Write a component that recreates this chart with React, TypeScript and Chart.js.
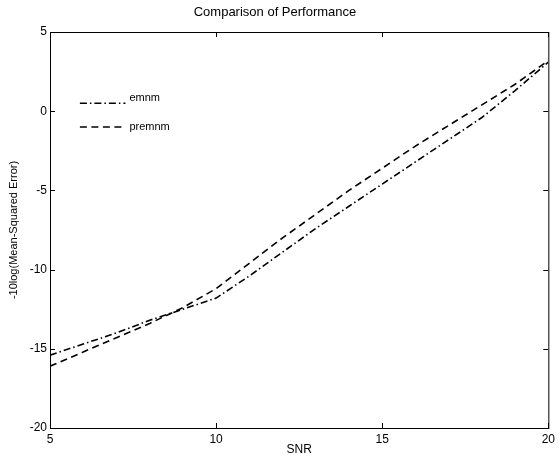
import React, { useEffect, useRef } from "react";
import { Chart, registerables } from "chart.js";

Chart.register(...registerables);

const snr = [5, 6, 7, 8, 9, 10, 11, 12, 13, 14, 15, 16, 17, 18, 19, 20];
const emnmValues = [-15.4, -14.7, -14.0, -13.2, -12.5, -11.8, -10.4, -8.9, -7.4, -6.0, -4.6, -3.2, -1.8, -0.4, 1.3, 3.1];
const premnmValues = [-16.1, -15.2, -14.3, -13.4, -12.4, -11.2, -9.6, -8.0, -6.5, -5.0, -3.6, -2.2, -0.9, 0.4, 1.7, 3.2];
const seriesLabels = ["emnm", "premnm"];
const xTickValues = [5, 10, 15, 20];
const yTickValues = [-20, -15, -10, -5, 0, 5];
const titleText = "Comparison of Performance";
const xTitle = "SNR";
const yTitle = "-10log(Mean-Squared Error)";

const FONT = "'Liberation Sans', Arial, Helvetica, sans-serif";

const framePlugin = {
  id: "frame",
  afterDatasetsDraw(chart: any) {
    const { ctx, chartArea } = chart;
    const { left, right, top, bottom } = chartArea;
    const xs = chart.scales.x;
    const ys = chart.scales.y;
    ctx.save();
    ctx.strokeStyle = "#000";
    ctx.lineWidth = 1;
    ctx.setLineDash([]);
    ctx.strokeRect(left + 0.5, top + 0.5, right - left, bottom - top);
    const tl = 5;
    ctx.beginPath();
    for (const v of xTickValues) {
      const px = Math.round(xs.getPixelForValue(v)) + 0.5;
      ctx.moveTo(px, bottom);
      ctx.lineTo(px, bottom - tl);
      ctx.moveTo(px, top);
      ctx.lineTo(px, top + tl);
    }
    for (const v of yTickValues) {
      const py = Math.round(ys.getPixelForValue(v)) + 0.5;
      ctx.moveTo(left, py);
      ctx.lineTo(left + tl, py);
      ctx.moveTo(right, py);
      ctx.lineTo(right - tl, py);
    }
    ctx.stroke();

    // in-plot legend
    const datasets = chart.data.datasets;
    const x0 = xs.getPixelForValue(5.9);
    const x1 = xs.getPixelForValue(7.27);
    const rows = [ys.getPixelForValue(0.5), ys.getPixelForValue(-1.0)];
    datasets.forEach((ds: any, i: number) => {
      const y = rows[i];
      ctx.beginPath();
      ctx.setLineDash(ds.borderDash);
      ctx.lineWidth = ds.borderWidth;
      ctx.strokeStyle = ds.borderColor;
      ctx.moveTo(x0, y);
      ctx.lineTo(x1, y);
      ctx.stroke();
      ctx.setLineDash([]);
      ctx.fillStyle = "#000";
      ctx.font = `11px ${FONT}`;
      ctx.textAlign = "left";
      ctx.textBaseline = "middle";
      ctx.fillText(ds.label, x1 + 4, i === 0 ? y - 5 : y);
    });
    ctx.restore();
  },
};

export default function App() {
  const ref = useRef<HTMLCanvasElement | null>(null);
  useEffect(() => {
    document.body.style.margin = "0";
    const canvas = ref.current;
    if (!canvas) return;
    const chart = new Chart(canvas, {
      type: "line",
      data: {
        datasets: [
          {
            label: seriesLabels[0],
            data: snr.map((x, i) => ({ x, y: emnmValues[i] })),
            borderColor: "#000",
            borderWidth: 1.6,
            borderDash: [7, 3, 1.5, 3],
            pointRadius: 0,
            fill: false,
            tension: 0,
          },
          {
            label: seriesLabels[1],
            data: snr.map((x, i) => ({ x, y: premnmValues[i] })),
            borderColor: "#000",
            borderWidth: 1.6,
            borderDash: [7, 4.5],
            pointRadius: 0,
            fill: false,
            tension: 0,
          },
        ],
      },
      options: {
        responsive: false,
        animation: false,
        layout: { padding: { left: 0, right: 9, top: 0, bottom: 0 } },
        plugins: {
          legend: { display: false },
          tooltip: { enabled: false },
          title: {
            display: true,
            text: titleText,
            color: "#000",
            font: { family: FONT, size: 13, weight: "normal", lineHeight: 1.2 },
            padding: { top: 5, bottom: 11.4 },
          },
        },
        scales: {
          x: {
            type: "linear",
            min: 5,
            max: 20,
            afterBuildTicks: (s: any) => {
              s.ticks = xTickValues.map((v) => ({ value: v }));
            },
            afterFit: (s: any) => {
              s.height = 34;
            },
            grid: { display: false, drawTicks: false },
            border: { display: false },
            ticks: {
              color: "#000",
              padding: 4,
              maxRotation: 0,
              font: { family: FONT, size: 12 },
            },
            title: {
              display: true,
              text: xTitle,
              color: "#000",
              font: { family: FONT, size: 12 },
              padding: { top: 0, bottom: 5 },
            },
          },
          y: {
            type: "linear",
            min: -20,
            max: 5,
            afterBuildTicks: (s: any) => {
              s.ticks = yTickValues.map((v) => ({ value: v }));
            },
            afterFit: (s: any) => {
              s.width = 50;
            },
            grid: { display: false, drawTicks: false },
            border: { display: false },
            ticks: {
              color: "#000",
              padding: 3,
              font: { family: FONT, size: 12 },
            },
            title: {
              display: true,
              text: yTitle,
              color: "#000",
              font: { family: FONT, size: 11 },
              padding: { top: 7, bottom: 0 },
            },
          },
        },
      },
      plugins: [framePlugin],
    } as any);
    return () => chart.destroy();
  }, []);
  return <canvas ref={ref} width={559} height={462} style={{ display: "block" }} />;
}
